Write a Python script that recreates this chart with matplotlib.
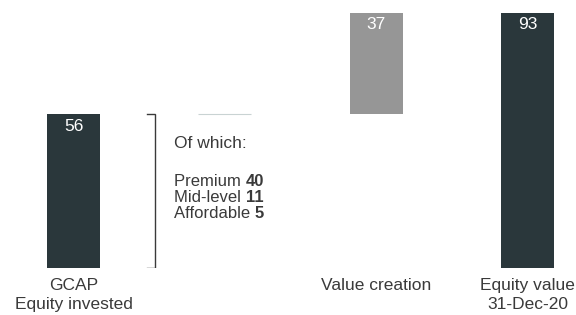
import matplotlib.pyplot as plt

plt.rcParams['font.family'] = ['Liberation Sans', 'DejaVu Sans']

categories = ['GCAP\nEquity invested', '', 'Value creation', 'Equity value\n31-Dec-20']
bar_values = [56, 0, 37, 93]
bar_bottoms = [0, 56, 56, 0]
value_labels = ['56', '', '37', '93']
breakdown_names = ['Premium', 'Mid-level', 'Affordable']
breakdown_values = [40, 11, 5]

dark = '#2a373b'
grey = '#969696'
text_col = '#3a3a3a'

fig = plt.figure(figsize=(5.76, 3.15), dpi=100)
ax = fig.add_axes([0, 47/315, 1, 255/315])

colors = [dark, dark, grey, dark]
pos = range(len(categories))
ax.bar(pos, bar_values, bottom=bar_bottoms, width=0.35, color=colors)
# the empty step at the top of the invested bar
ax.bar([1], [0], bottom=[56], width=0.35, color='none', edgecolor='#c9d3d3', linewidth=0.8)

for i, lab in enumerate(value_labels):
    if lab:
        top = bar_bottoms[i] + bar_values[i]
        ax.text(i, top - 1.6, lab, ha='center', va='top', color='white', fontsize=12.5)

# bracket next to first bar
bx, tick = 0.539, 0.053
ax.plot([bx - tick, bx, bx, bx - tick], [56, 56, 0, 0], color=text_col, lw=1, solid_joinstyle='miter')

tx = 0.664
ax.text(tx, 45.5, 'Of which:', ha='left', va='center', color=text_col, fontsize=12.5)
ys = [31.6, 25.8, 20.0]
for name, v, y in zip(breakdown_names, breakdown_values, ys):
    t = ax.text(tx, y, name + ' ', ha='left', va='center', color=text_col, fontsize=12)
    ax.annotate(str(v), xycoords=t, xy=(1, 0.5), va='center', ha='left',
                color=text_col, fontsize=12, fontweight='bold')

ax.set_xlim(-0.486, 3.32)
ax.set_ylim(0, 93)
ax.set_xticks(list(pos))
ax.set_xticklabels(categories, fontsize=12.5, color=text_col, linespacing=1.35)
ax.tick_params(axis='x', length=0, pad=7)
ax.set_yticks([])
for s in ax.spines.values():
    s.set_visible(False)

fig.savefig('out.png', dpi=100)
